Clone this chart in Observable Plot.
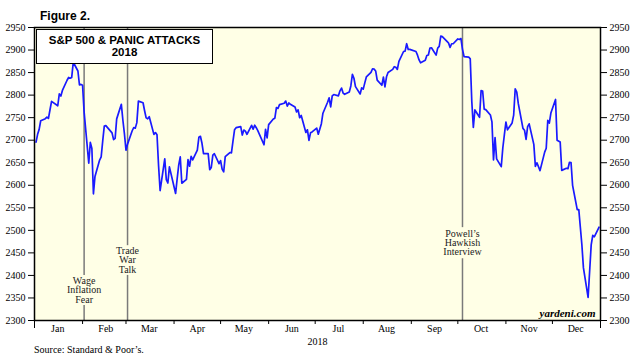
<!DOCTYPE html>
<html><head><meta charset="utf-8">
<script src="https://cdn.jsdelivr.net/npm/d3@7"></script>
<script src="https://cdn.jsdelivr.net/npm/@observablehq/plot@0.6"></script>
<style>
body{margin:0;background:#fff;}
#wrap{position:relative;width:640px;height:361px;overflow:hidden;background:#fff;}
#wrap svg{position:absolute;left:0;top:0;}
#fig{position:absolute;left:40px;top:10px;font:bold 12px/12px "Liberation Sans",Arial,sans-serif;color:#000;}
#tbox{position:absolute;left:36px;top:29px;width:177px;height:35px;border:1.5px solid #000;background:#fff;box-sizing:border-box;display:flex;flex-direction:column;justify-content:center;align-items:center;font:bold 11.5px/11.5px "Liberation Sans",Arial,sans-serif;color:#000;}
#src{position:absolute;left:34px;top:345px;font:10px/10px "Liberation Serif","Times New Roman",serif;color:#000;}
</style></head>
<body>
<div id="wrap"></div>
<script>
// ---- data (S&P 500 daily close, 2018) ----
const year = 2018;
const dayLabels = [
"01-02","01-03","01-04","01-05","01-08","01-09","01-10","01-11","01-12","01-16","01-17","01-18","01-19","01-22","01-23","01-24","01-25","01-26","01-29","01-30","01-31",
"02-01","02-02","02-05","02-06","02-07","02-08","02-09","02-12","02-13","02-14","02-15","02-16","02-20","02-21","02-22","02-23","02-26","02-27","02-28",
"03-01","03-02","03-05","03-06","03-07","03-08","03-09","03-12","03-13","03-14","03-15","03-16","03-19","03-20","03-21","03-22","03-23","03-26","03-27","03-28","03-29",
"04-02","04-03","04-04","04-05","04-06","04-09","04-10","04-11","04-12","04-13","04-16","04-17","04-18","04-19","04-20","04-23","04-24","04-25","04-26","04-27","04-30",
"05-01","05-02","05-03","05-04","05-07","05-08","05-09","05-10","05-11","05-14","05-15","05-16","05-17","05-18","05-21","05-22","05-23","05-24","05-25","05-29","05-30","05-31",
"06-01","06-04","06-05","06-06","06-07","06-08","06-11","06-12","06-13","06-14","06-15","06-18","06-19","06-20","06-21","06-22","06-25","06-26","06-27","06-28","06-29",
"07-02","07-03","07-05","07-06","07-09","07-10","07-11","07-12","07-13","07-16","07-17","07-18","07-19","07-20","07-23","07-24","07-25","07-26","07-27","07-30","07-31",
"08-01","08-02","08-03","08-06","08-07","08-08","08-09","08-10","08-13","08-14","08-15","08-16","08-17","08-20","08-21","08-22","08-23","08-24","08-27","08-28","08-29","08-30","08-31",
"09-04","09-05","09-06","09-07","09-10","09-11","09-12","09-13","09-14","09-17","09-18","09-19","09-20","09-21","09-24","09-25","09-26","09-27","09-28",
"10-01","10-02","10-03","10-04","10-05","10-08","10-09","10-10","10-11","10-12","10-15","10-16","10-17","10-18","10-19","10-22","10-23","10-24","10-25","10-26","10-29","10-30","10-31",
"11-01","11-02","11-05","11-06","11-07","11-08","11-09","11-12","11-13","11-14","11-15","11-16","11-19","11-20","11-21","11-23","11-26","11-27","11-28","11-29","11-30",
"12-03","12-04","12-06","12-07","12-10","12-11","12-12","12-13","12-14","12-17","12-18","12-19","12-20","12-21","12-24","12-26","12-27","12-28","12-31"
];
const closes = [
2695.81,2713.06,2723.99,2743.15,2747.71,2751.29,2748.23,2767.56,2786.24,2776.42,2802.56,2798.03,2810.30,2832.97,2839.13,2837.54,2839.25,2872.87,2853.53,2822.43,2823.81,
2821.98,2762.13,2648.94,2695.14,2681.66,2581.00,2619.55,2656.00,2662.94,2698.63,2731.20,2732.22,2716.26,2701.33,2703.96,2747.30,2779.60,2744.28,2713.83,
2677.67,2691.25,2720.94,2728.12,2726.80,2738.97,2786.57,2783.02,2765.31,2749.48,2747.33,2752.01,2712.92,2716.94,2711.93,2643.69,2588.26,2658.55,2612.62,2605.00,2640.87,
2581.88,2614.45,2644.69,2662.84,2604.47,2613.16,2656.87,2642.19,2663.99,2656.30,2677.84,2706.39,2708.64,2693.13,2670.14,2670.29,2634.56,2639.40,2666.94,2669.91,2648.05,
2654.80,2635.67,2629.73,2663.42,2672.63,2671.92,2697.79,2723.07,2727.72,2730.13,2711.45,2722.46,2720.13,2712.97,2733.01,2724.44,2733.29,2727.76,2721.33,2689.86,2724.01,2705.27,
2734.62,2746.87,2748.80,2772.35,2770.37,2779.03,2782.00,2786.85,2775.63,2782.49,2779.66,2773.75,2762.59,2767.32,2749.76,2754.88,2717.07,2723.06,2699.63,2716.31,2718.37,
2726.71,2713.22,2736.61,2759.82,2784.17,2793.84,2774.02,2798.29,2801.31,2798.43,2809.55,2815.62,2804.49,2801.83,2806.98,2820.40,2846.07,2837.44,2818.82,2802.60,2816.29,
2813.36,2827.22,2840.35,2850.40,2858.45,2857.70,2853.58,2833.28,2821.93,2839.96,2818.37,2840.69,2850.13,2857.05,2862.96,2861.82,2856.98,2874.69,2896.74,2897.52,2914.04,2901.13,2901.52,
2896.72,2888.60,2878.05,2871.68,2877.13,2887.89,2888.92,2904.18,2904.98,2888.80,2904.31,2907.95,2930.75,2929.67,2919.37,2915.56,2905.97,2914.00,2913.98,
2924.59,2923.43,2925.51,2901.61,2885.57,2884.43,2880.34,2785.68,2728.37,2767.13,2750.79,2809.92,2809.21,2768.78,2767.78,2755.88,2740.69,2656.10,2705.57,2658.69,2641.25,2682.63,2711.74,
2740.37,2723.06,2738.31,2755.45,2813.89,2806.83,2781.01,2726.22,2722.18,2701.58,2730.20,2736.27,2690.73,2641.89,2649.93,2632.56,2673.45,2682.17,2743.79,2737.80,2760.17,
2790.37,2700.06,2695.95,2633.08,2637.72,2636.78,2651.07,2650.54,2599.95,2545.94,2546.16,2506.96,2467.42,2416.62,2351.10,2467.70,2488.83,2485.74,2506.85
];
const eventDates = ["2018-02-02","2018-03-02","2018-10-04"];
const eventLabels = ["Wage\nInflation\nFear","Trade\nWar\nTalk","Powell\u2019s\nHawkish\nInterview"];
const eventLabelValues = [2367, 2434, 2472];
const eventGapTop = [2400, 2466, 2506];     // rule stops above the label
const eventGapBottom = [2333, 2400, 2437];  // rule resumes below the label
const yTicks = [2300,2350,2400,2450,2500,2550,2600,2650,2700,2750,2800,2850,2900,2950];
const monthLabels = ["Jan","Feb","Mar","Apr","May","Jun","Jul","Aug","Sep","Oct","Nov","Dec"];
const axisTitle = "2018";

// ---- build ----
const parse = d3.utcParse("%Y-%m-%d");
const data = dayLabels.map((d, i) => ({date: parse(`${year}-${d}`), close: closes[i]}));
const events = eventDates.map((d, i) => ({date: parse(d), label: eventLabels[i], ly: eventLabelValues[i], gt: eventGapTop[i], gb: eventGapBottom[i]}));
const start = new Date(Date.UTC(year, 0, 1)), end = new Date(Date.UTC(year + 1, 0, 1));
const monthStarts = d3.utcMonth.range(start, end);
const monthMids = monthStarts.map(m => d3.utcDay.offset(m, 15));
const bg = "#ffffe6";
const serif = '"Liberation Serif","Times New Roman",serif';
const yMin = yTicks[0], yMax = yTicks[yTicks.length - 1];

const chart = Plot.plot({
  width: 640, height: 345,
  marginLeft: 34, marginRight: 40, marginTop: 27, marginBottom: 25,
  style: {fontFamily: serif, fontSize: "10px", color: "#000", background: "transparent", overflow: "visible"},
  x: {type: "utc", domain: [start, end]},
  y: {domain: [yMin, yMax]},
  marks: [
    Plot.frame({fill: bg, stroke: "none"}),
    Plot.ruleX(events, {x: "date", y1: yMax, y2: "gt", stroke: "#7a7a7a", strokeWidth: 1.5}),
    Plot.ruleX(events, {x: "date", y1: "gb", y2: yMin, stroke: "#7a7a7a", strokeWidth: 1.5}),
    Plot.text(events, {x: "date", y: "ly", text: "label", fill: "#222", lineHeight: 0.95, fontSize: 10}),
    Plot.line(data, {x: "date", y: "close", stroke: "#1a1aff", strokeWidth: 1.7}),
    Plot.frame({stroke: "#000", strokeWidth: 1.5}),
    Plot.axisY({anchor: "left", ticks: yTicks, tickSize: 6, tickPadding: 3, label: null, tickFormat: d => String(d)}),
    Plot.axisY({anchor: "right", ticks: yTicks, tickSize: 6, tickPadding: 3, label: null, tickFormat: d => String(d)}),
    Plot.axisX({ticks: monthStarts.slice(1), tickSize: 4, tickFormat: () => "", label: null}),
    Plot.axisX({ticks: [start, end], tickSize: 8, tickFormat: () => "", label: null}),
    Plot.axisX({ticks: monthMids, tickSize: 0, tickPadding: 4, tickFormat: d => monthLabels[d.getUTCMonth()], label: axisTitle, labelAnchor: "center", labelArrow: "none", labelOffset: 24}),
    Plot.text(["yardeni.com"], {frameAnchor: "bottom-right", dx: -5, dy: -4, fontWeight: "bold", fontStyle: "italic", fontSize: 11, fill: "#000"})
  ]
});

const wrap = document.getElementById("wrap");
wrap.appendChild(chart);
const fig = document.createElement("div"); fig.id = "fig"; fig.textContent = "Figure 2."; wrap.appendChild(fig);
const tbox = document.createElement("div"); tbox.id = "tbox";
tbox.innerHTML = "<div>S&amp;P 500 &amp; PANIC ATTACKS</div><div>2018</div>"; wrap.appendChild(tbox);
const src = document.createElement("div"); src.id = "src"; src.textContent = "Source: Standard & Poor\u2019s."; wrap.appendChild(src);
</script>
</body></html>
